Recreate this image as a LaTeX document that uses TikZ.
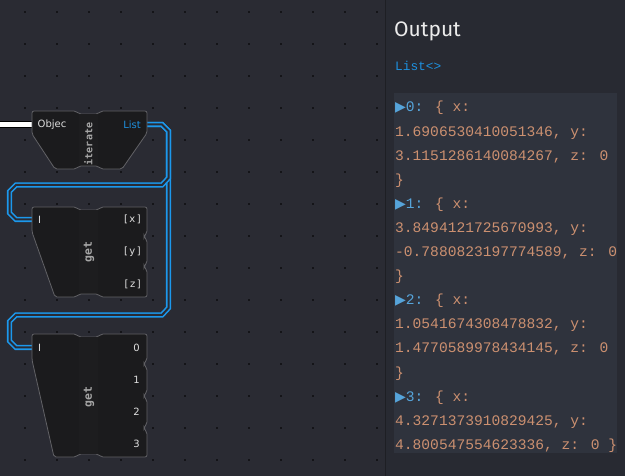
\documentclass[tikz,border=0pt]{standalone}
\usepackage{fontspec}
\setmainfont{DejaVu Sans}
\newfontfamily\codefont{Liberation Mono}
\newfontfamily\monofont{DejaVu Sans Mono}
\newfontfamily\headfont{Fira Sans}
\newfontfamily\symfont{DejaVu Sans}
\definecolor{canvas}{RGB}{42,43,51}
\definecolor{panel}{RGB}{40,42,50}
\definecolor{codebg}{RGB}{47,51,61}
\definecolor{panelline}{RGB}{30,31,36}
\definecolor{griddot}{RGB}{20,20,24}
\definecolor{nodefill}{RGB}{27,27,29}
\definecolor{bandfill}{RGB}{29,29,31}
\definecolor{nodeedge}{RGB}{98,98,102}
\definecolor{wireblue}{RGB}{28,152,236}
\definecolor{porttext}{RGB}{222,222,222}
\definecolor{labeltext}{RGB}{165,165,165}
\definecolor{codeorange}{RGB}{204,144,112}
\definecolor{codeblue}{RGB}{86,164,218}
\definecolor{listblue}{RGB}{30,144,222}
\tikzset{
  nodebox/.style={fill=nodefill, draw=nodeedge, line width=0.8pt, rounded corners=2pt},
  band/.style={fill=bandfill},
  wire/.style={draw=wireblue, line width=1.6pt, double=canvas, double distance=2pt},
  portlbl/.style={inner sep=0pt, text=porttext, font=\fontsize{10}{12}\selectfont},
  namelbl/.style={inner sep=0pt, rotate=90, text=labeltext, font=\monofont\bfseries\fontsize{10}{12}\selectfont},
  codeline/.style={anchor=base west, inner sep=0pt, text=codeorange, font=\codefont\fontsize{14.6}{16}\selectfont},
}
\begin{document}
\begin{tikzpicture}[x=1pt, y=-1pt]
  \useasboundingbox (0,0) rectangle (625,476);
  % Canvas and grid
  \fill[canvas] (0,0) rectangle (625,476);
  \foreach \gx in {0,...,11}
    \foreach \gy in {0,...,14}
      \fill[griddot] ({24+32*\gx},{11+32*\gy}) rectangle ++(2,2);

  % Ports
  \coordinate (objSrc) at (0,124.5);
  \coordinate (itObj) at (32,124.5);
  \coordinate (itList) at (147,124.5);
  \coordinate (g1In) at (32,219.5);
  \coordinate (g2In) at (32,347.5);

  % Wires
  \draw[line width=1pt, draw=black, double=white, double distance=4.5pt] (objSrc) -- (itObj);
  \draw[wire] (itList) -- (162,124.5) -- (168.5,131) -- (168.5,308) -- (162,315)
    -- (16,315) -- (9.5,321.5) -- (9.5,341) -- (16,347.5) -- (g2In);
  \draw[wire] (itList) -- (162,124.5) -- (168.5,131) -- (168.5,178) -- (162,185)
    -- (16,185) -- (9.5,191.5) -- (9.5,213) -- (16,219.5) -- (g1In);

  % iterate node
  \draw[nodebox] (32,111) -- (76,111) -- (79,114) -- (98,114) -- (101,111) -- (147,111)
    -- (147,133) -- (122,169) -- (101,169) -- (98,166) -- (79,166) -- (76,169)
    -- (55,169) -- (32,134) -- cycle;
  \fill[band] (79,114.5) rectangle (98,165.5);
  \node[portlbl, anchor=west] (itObjL) at (37.5,124.5) {Objec};
  \node[portlbl, anchor=east, text=listblue] (itListL) at (141,124.5) {List};
  \node[namelbl] (itName) at (88.5,144) {iterate};

  % first get node
  \draw[nodebox] (32,207) -- (76,207) -- (79,210) -- (98,210) -- (101,207) -- (147,207)
    -- (147,233) -- (144,236) -- (144,237) -- (147,240)
    -- (147,263) -- (144,266) -- (144,267) -- (147,270)
    -- (147,297) -- (101,297) -- (98,294) -- (79,294) -- (76,297)
    -- (55,297) -- (32,232) -- cycle;
  \fill[band] (79,210.5) rectangle (98,293.5);
  \node[portlbl, anchor=west] (g1InL) at (38,219.5) {I};
  \foreach \c/\py in {x/219.5, y/252, z/284}
    \node[portlbl, anchor=east] (g1\c) at (141,\py) {[\kern1.5pt\c\kern1.5pt]};
  \node[namelbl, font=\monofont\bfseries\fontsize{11.5}{12}\selectfont] (g1Name) at (89,252) {get};

  % second get node
  \draw[nodebox] (32,334) -- (76,334) -- (79,337) -- (98,337) -- (101,334) -- (147,334)
    -- (147,360) -- (144,363) -- (144,365) -- (147,368)
    -- (147,392) -- (144,395) -- (144,397) -- (147,400)
    -- (147,424) -- (144,427) -- (144,429) -- (147,432)
    -- (147,457) -- (101,457) -- (98,454) -- (79,454) -- (76,457)
    -- (54,457) -- (32,360) -- cycle;
  \fill[band] (79,337.5) rectangle (98,453.5);
  \node[portlbl, anchor=west] (g2InL) at (38,347.5) {I};
  \foreach \n/\py in {0/347.5, 1/380, 2/411.5, 3/443.5}
    \node[portlbl, anchor=east] (g2p\n) at (140,\py) {\n};
  \node[namelbl, font=\monofont\bfseries\fontsize{11.5}{12}\selectfont] (g2Name) at (89,397) {get};

  % Output panel
  \fill[panel] (386,0) rectangle (625,476);
  \draw[panelline, line width=1pt] (385.5,0) -- (385.5,476);
  \fill[codebg] (393.5,93) rectangle (617,453);
  \node[anchor=base west, inner sep=0pt, text={rgb,255:red,236;green,236;blue,236},
    font=\headfont\fontsize{21}{24}\selectfont] (outHead) at (394,36.5) {Output};
  \node[anchor=base west, inner sep=0pt, text=listblue,
    font=\codefont\fontsize{12.8}{14}\selectfont] (outType) at (395,71) {List<>};

  % List entries
  \foreach \n/\xv/\yv [count=\k from 0] in {
    0/1.6906530410051346/3.1151286140084267,
    1/3.8494121725670993/-0.7880823197774589,
    2/1.0541674308478832/1.4770589978434145,
    3/4.3271373910829425/4.800547554623336}{
    \pgfmathsetmacro\ytop{112+4*\k*24.1}
    \node[codeline] (head\n) at (395,\ytop) {{\color{codeblue}\symfont\fontsize{14}{16}\selectfont ▶}{\color{codeblue}\n:} \{ x:};
    \node[codeline] (xval\n) at (395,{\ytop+24.1}) {\xv, y:};
    \node[codeline] (yval\n) at (395,{\ytop+48.2}) {\yv, z: 0\ifnum\n=3{} \}\fi};
    \ifnum\n<3
      \node[codeline] (close\n) at (395,{\ytop+72.3}) {\}};
    \fi
  }
\end{tikzpicture}
\end{document}
